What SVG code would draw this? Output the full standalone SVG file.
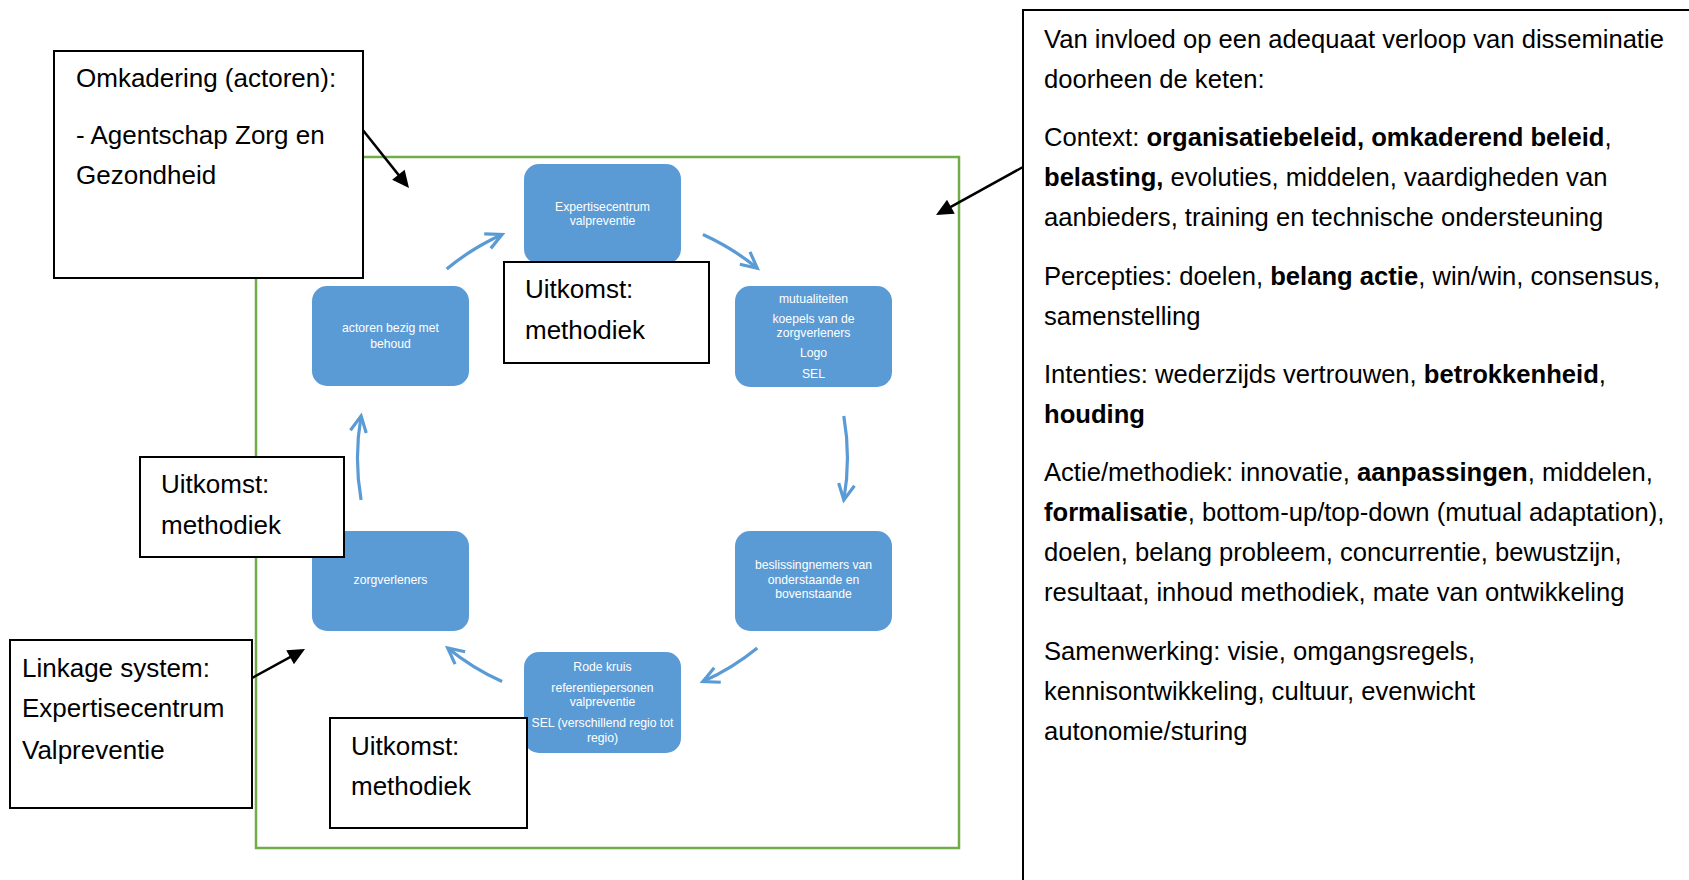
<svg xmlns="http://www.w3.org/2000/svg" width="1689" height="880" viewBox="0 0 1689 880">
  <style>
    .frame { fill: none; stroke: #70AD47; stroke-width: 2.5; }
    .node { fill: #5B9BD5; }
    .ntxt { font-family: "Liberation Sans", Arial, sans-serif; font-size: 12.2px; fill: #FFFFFF; text-anchor: middle; }
    .box { fill: #FFFFFF; stroke: #000000; stroke-width: 2; }
    .btxt { font-family: "Liberation Sans", Arial, sans-serif; font-size: 26px; fill: #000000; }
    .rtxt { font-family: "Liberation Sans", Arial, sans-serif; font-size: 25.6px; fill: #000000; }
    .b { font-weight: bold; }
    .cycle { fill: none; stroke: #5B9BD5; stroke-width: 3.2; marker-end: url(#chev); }
    .ptr { fill: none; stroke: #000000; stroke-width: 2.5; marker-end: url(#tri); }
  </style>
  <defs>
    <marker id="chev" markerUnits="userSpaceOnUse" markerWidth="40" markerHeight="40" refX="0" refY="0" viewBox="-20 -20 40 40" orient="auto">
      <path d="M-16,-8 L0,0 L-16,8" fill="none" stroke="#5B9BD5" stroke-width="3.2" stroke-linejoin="miter"/>
    </marker>
    <marker id="tri" markerUnits="userSpaceOnUse" markerWidth="40" markerHeight="40" refX="0" refY="0" viewBox="-20 -20 40 40" orient="auto">
      <path d="M-13,-8 L4,0 L-13,8 Z" fill="#000000"/>
    </marker>
  </defs>

  <!-- green frame around the cycle -->
  <rect id="frame" class="frame" x="256" y="157" width="703" height="691"/>

  <!-- cycle nodes -->
  <g id="node-expertise">
    <rect class="node" x="524" y="164" width="157" height="100" rx="15"/>
    <text class="ntxt" x="602.5"><tspan x="602.5" y="211">Expertisecentrum</tspan><tspan x="602.5" y="224.5">valpreventie</tspan></text>
  </g>
  <g id="node-mutualiteiten">
    <rect class="node" x="735" y="286" width="157" height="101" rx="15"/>
    <text class="ntxt"><tspan x="813.5" y="303">mutualiteiten</tspan><tspan x="813.5" y="323">koepels van de</tspan><tspan x="813.5" y="336.5">zorgverleners</tspan><tspan x="813.5" y="357">Logo</tspan><tspan x="813.5" y="377.5">SEL</tspan></text>
  </g>
  <g id="node-beslissingnemers">
    <rect class="node" x="735" y="531" width="157" height="100" rx="15"/>
    <text class="ntxt"><tspan x="813.5" y="569">beslissingnemers van</tspan><tspan x="813.5" y="583.5">onderstaande en</tspan><tspan x="813.5" y="598">bovenstaande</tspan></text>
  </g>
  <g id="node-rodekruis">
    <rect class="node" x="524" y="652" width="157" height="101" rx="15"/>
    <text class="ntxt"><tspan x="602.5" y="671">Rode kruis</tspan><tspan x="602.5" y="692">referentiepersonen</tspan><tspan x="602.5" y="706">valpreventie</tspan><tspan x="602.5" y="727">SEL (verschillend regio tot</tspan><tspan x="602.5" y="742">regio)</tspan></text>
  </g>
  <g id="node-zorgverleners">
    <rect class="node" x="312" y="531" width="157" height="100" rx="15"/>
    <text class="ntxt" x="390.5" y="584">zorgverleners</text>
  </g>
  <g id="node-actoren">
    <rect class="node" x="312" y="286" width="157" height="100" rx="15"/>
    <text class="ntxt"><tspan x="390.5" y="332">actoren bezig met</tspan><tspan x="390.5" y="347.5">behoud</tspan></text>
  </g>

  <!-- connectors: arcs of the cycle (centre 602.5,458, r 245) and black pointers -->
  <g id="connectors">
    <path class="cycle" d="M446.7,269 A245,245 0 0 1 502.1,234.5"/>
    <path class="cycle" d="M702.9,234.5 A245,245 0 0 1 757.3,268.2"/>
    <path class="cycle" d="M843.8,415.9 A245,245 0 0 1 843.8,500.1"/>
    <path class="cycle" d="M757.3,647.9 A245,245 0 0 1 702.9,681.5"/>
    <path class="cycle" d="M502.1,681.5 A245,245 0 0 1 447.7,647.9"/>
    <path class="cycle" d="M361.1,500.1 A245,245 0 0 1 361.1,415.9"/>
    <path class="ptr" d="M362,129 L406.5,184.9"/>
    <path class="ptr" d="M1023,167 L939.5,213.1"/>
    <path class="ptr" d="M252,678 L301.5,650.9"/>
  </g>

  <!-- outcome labels -->
  <g id="uitkomst-top">
    <rect class="box" x="504" y="262" width="205" height="101"/>
    <text class="btxt"><tspan x="525" y="298">Uitkomst:</tspan><tspan x="525" y="339">methodiek</tspan></text>
  </g>
  <g id="uitkomst-left">
    <rect class="box" x="140" y="457" width="204" height="100"/>
    <text class="btxt"><tspan x="161" y="493">Uitkomst:</tspan><tspan x="161" y="534">methodiek</tspan></text>
  </g>
  <g id="uitkomst-bottom">
    <rect class="box" x="330" y="718" width="197" height="110"/>
    <text class="btxt"><tspan x="351" y="755">Uitkomst:</tspan><tspan x="351" y="795">methodiek</tspan></text>
  </g>

  <g id="omkadering">
    <rect class="box" x="54" y="51" width="309" height="227"/>
    <text class="btxt"><tspan x="76" y="87">Omkadering (actoren):</tspan><tspan x="76" y="144">- Agentschap Zorg en</tspan><tspan x="76" y="184">Gezondheid</tspan></text>
  </g>

  <g id="linkage">
    <rect class="box" x="10" y="640" width="242" height="168"/>
    <text class="btxt"><tspan x="22" y="677">Linkage system:</tspan><tspan x="22" y="717">Expertisecentrum</tspan><tspan x="22" y="759">Valpreventie</tspan></text>
  </g>

  <g id="invloed">
    <rect class="box" x="1023" y="10" width="700" height="900"/>
    <text class="rtxt">
      <tspan x="1044" y="48">Van invloed op een adequaat verloop van disseminatie</tspan>
      <tspan x="1044" y="88">doorheen de keten:</tspan>
      <tspan x="1044" y="146">Context: <tspan class="b">organisatiebeleid, omkaderend beleid</tspan>,</tspan>
      <tspan x="1044" y="186"><tspan class="b">belasting,</tspan> evoluties, middelen, vaardigheden van</tspan>
      <tspan x="1044" y="226">aanbieders, training en technische ondersteuning</tspan>
      <tspan x="1044" y="285">Percepties: doelen, <tspan class="b">belang actie</tspan>, win/win, consensus,</tspan>
      <tspan x="1044" y="325">samenstelling</tspan>
      <tspan x="1044" y="383">Intenties: wederzijds vertrouwen, <tspan class="b">betrokkenheid</tspan>,</tspan>
      <tspan x="1044" y="423" class="b">houding</tspan>
      <tspan x="1044" y="481">Actie/methodiek: innovatie, <tspan class="b">aanpassingen</tspan>, middelen,</tspan>
      <tspan x="1044" y="521"><tspan class="b">formalisatie</tspan>, bottom-up/top-down (mutual adaptation),</tspan>
      <tspan x="1044" y="561">doelen, belang probleem, concurrentie, bewustzijn,</tspan>
      <tspan x="1044" y="601">resultaat, inhoud methodiek, mate van ontwikkeling</tspan>
      <tspan x="1044" y="660">Samenwerking: visie, omgangsregels,</tspan>
      <tspan x="1044" y="700">kennisontwikkeling, cultuur, evenwicht</tspan>
      <tspan x="1044" y="740">autonomie/sturing</tspan>
    </text>
  </g>
</svg>
